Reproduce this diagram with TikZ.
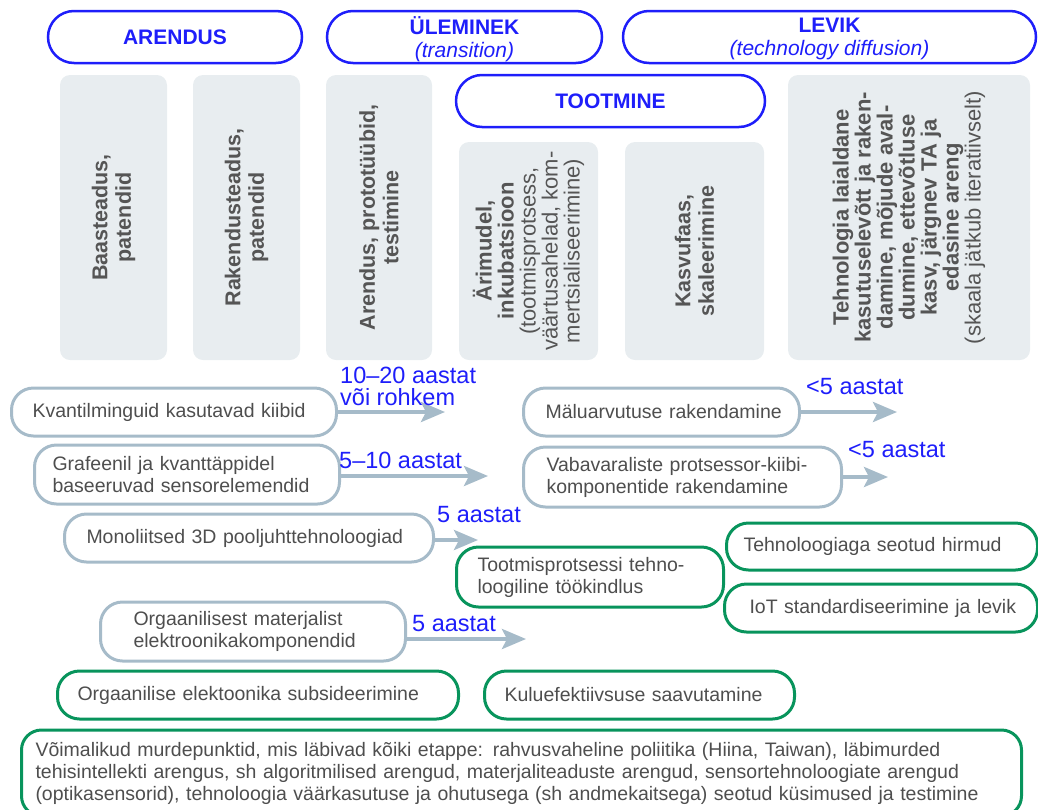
\documentclass[tikz,border=0pt]{standalone}
\usepackage{fontspec}
\setmainfont{Liberation Sans}
\usetikzlibrary{arrows.meta}
\definecolor{hblue}{RGB}{30,30,250}
\definecolor{colfill}{RGB}{232,237,240}
\definecolor{lgray}{RGB}{166,187,201}
\definecolor{ggreen}{RGB}{8,148,92}
\definecolor{tgray}{RGB}{78,78,78}
\definecolor{ctext}{RGB}{85,85,85}
\tikzset{
  hdr/.style={draw=hblue, line width=2.5pt, rounded corners=26pt, text=hblue, align=center, minimum height=52pt, inner sep=0pt, font=\fontsize{21}{23}\selectfont},
  colbox/.style={fill=colfill, rounded corners=10pt, rotate=90, text=ctext, align=center, inner sep=0pt, font=\fontsize{21.5}{23.5}\selectfont},
  itembox/.style={draw=lgray, line width=3pt, rounded corners=22pt, text=tgray, align=left, inner ysep=0pt, anchor=west, font=\fontsize{19.5}{22}\selectfont},
  gitem/.style={itembox, draw=ggreen},
  arr/.style={draw=lgray, line width=4pt, -{Stealth[length=24pt,width=20pt,inset=5pt]}},
  lbl/.style={text=hblue, inner sep=0pt, align=left, font=\fontsize{23.5}{22}\selectfont}
}
\begin{document}
\begin{tikzpicture}[x=1pt,y=-1pt]
\useasboundingbox (0,0) rectangle (1038,809);
% headers
\node[hdr, minimum width=254pt] (h1) at (175,37) {\bfseries ARENDUS};
\node[hdr, minimum width=275pt] (h2) at (464.5,37) {};
\node[text=hblue, align=center, inner sep=0pt, font=\fontsize{21}{23}\selectfont] (t2) at (464.5,39.5) {\textbf{ÜLEMINEK}\\\textit{(transition)}};
\node[hdr, minimum width=413pt] (h3) at (829.5,37) {};
\node[text=hblue, align=center, inner sep=0pt, font=\fontsize{21}{23}\selectfont] (t3) at (829.5,39) {\textbf{LEVIK}\\\textit{(technology diffusion)}};
\node[hdr, minimum width=309pt] (h4) at (610.5,101) {\bfseries TOOTMINE};
% columns
\node[colbox, minimum width=285pt, minimum height=107pt] (c1) at (113.5,217.5) {\textbf{Baasteadus,}\\\textbf{patendid}};
\node[colbox, minimum width=285pt, minimum height=107pt] (c2) at (246.5,217.5) {\textbf{Rakendusteadus,}\\\textbf{patendid}};
\node[colbox, minimum width=285pt, minimum height=106pt] (c3) at (379,217.5) {\textbf{Arendus, prototüübid,}\\\textbf{testimine}};
\node[colbox, minimum width=218pt, minimum height=139pt, font=\fontsize{22}{22}\selectfont] (c4) at (528.5,251) {\textbf{Ärimudel,}\\\textbf{inkubatsioon}\\(tootmisprotsess,\\väärtusahelad, kom-\\mertsialiseerimine)};
\node[colbox, minimum width=218pt, minimum height=139pt] (c5) at (694.5,251) {\textbf{Kasvufaas,}\\\textbf{skaleerimine}};
\node[colbox, minimum width=285pt, minimum height=242pt, font=\fontsize{22}{22}\selectfont] (c6) at (909,217.5) {\textbf{Tehnologia laialdane}\\\textbf{kasutuselevõtt ja raken-}\\\textbf{damine, mõjude aval-}\\\textbf{dumine, ettevõtluse}\\\textbf{kasv, järgnev TA ja}\\\textbf{edasine areng}\\(skaala jätkub iteratiivselt)};
% grey items
\node[itembox, minimum height=48pt, inner xsep=21pt, text width=283pt] (q1) at (10,412) {\mbox{Kvantilminguid kasutavad kiibid}};
\node[itembox, minimum height=59pt, inner xsep=18pt, text width=269pt] (q2) at (33,474.5) {\mbox{Grafeenil ja kvanttäppidel}\\\mbox{baseeruvad sensorelemendid}};
\node[itembox, minimum height=48pt, inner xsep=22pt, text width=325pt] (q3) at (63,538) {\mbox{Monoliitsed 3D pooljuhttehnoloogiad}};
\node[itembox, minimum height=48pt, inner xsep=22pt, text width=232pt] (q4) at (522,412) {\mbox{Mäluarvutuse rakendamine}};
\node[itembox, minimum height=60pt, inner xsep=23pt, text width=272pt] (q5) at (522,477) {\mbox{Vabavaraliste protsessor-kiibi-}\\\mbox{komponentide rakendamine}};
\node[itembox, minimum height=59pt, inner xsep=33pt, text width=239pt] (q6) at (99,631.5) {\mbox{Orgaanilisest materjalist}\\\mbox{elektroonikakomponendid}};
% green items
\node[gitem, minimum height=47pt, inner xsep=17pt, text width=277pt] (g1) at (725,546.5) {\mbox{Tehnoloogiaga seotud hirmud}};
\node[gitem, minimum height=48pt, inner xsep=25pt, text width=263pt] (g2) at (723,608) {\mbox{IoT standardiseerimine ja levik}};
\node[gitem, minimum height=60pt, inner xsep=21pt, text width=225pt] (g3) at (455,577) {\mbox{Tootmisprotsessi tehno-}\\\mbox{loogiline töökindlus}};
\node[gitem, minimum height=48pt, inner xsep=20pt, text width=361pt] (g4) at (56,695) {\mbox{Orgaanilise elektoonika subsideerimine}};
\node[gitem, minimum height=48pt, inner xsep=20pt, text width=270pt] (g5) at (483,695) {\mbox{Kuluefektiivsuse saavutamine}};
\node[gitem, minimum height=86pt, inner xsep=14pt, text width=972pt, rounded corners=20pt] (g6) at (20,773) {\mbox{Võimalikud murdepunktid, mis läbivad kõiki etappe: rahvusvaheline poliitika (Hiina, Taiwan), läbimurded}\\\mbox{tehisintellekti arengus, sh algoritmilised arengud, materjaliteaduste arengud, sensortehnoloogiate arengud}\\\mbox{(optikasensorid), tehnoloogia väärkasutuse ja ohutusega (sh andmekaitsega) seotud küsimused ja testimine}};
% arrow ends
\coordinate (e1) at (445,412);
\coordinate (e2) at (488,476);
\coordinate (e3) at (478,540);
\coordinate (e4) at (897,412);
\coordinate (e5) at (888,477);
\coordinate (e6) at (526,639);
\draw[arr] (q1.east) -- (e1);
\draw[arr] ([yshift=-1.5pt]q2.east) -- (e2);
\draw[arr] ([yshift=-2pt]q3.east) -- (e3);
\draw[arr] (q4.east) -- (e4);
\draw[arr] (q5.east) -- (e5);
\draw[arr] ([yshift=-7.5pt]q6.east) -- (e6);
% labels
\node[lbl, anchor=base west] (l1) at (340,405) {10–20 aastat\\või rohkem};
\node[lbl, anchor=base west] (l2) at (339,468) {5–10 aastat};
\node[lbl, anchor=base west] (l3) at (437,522) {5 aastat};
\node[lbl, anchor=base west] (l4) at (806,394) {<5 aastat};
\node[lbl, anchor=base west] (l5) at (848,457) {<5 aastat};
\node[lbl, anchor=base west] (l6) at (412,631) {5 aastat};
\end{tikzpicture}
\end{document}
